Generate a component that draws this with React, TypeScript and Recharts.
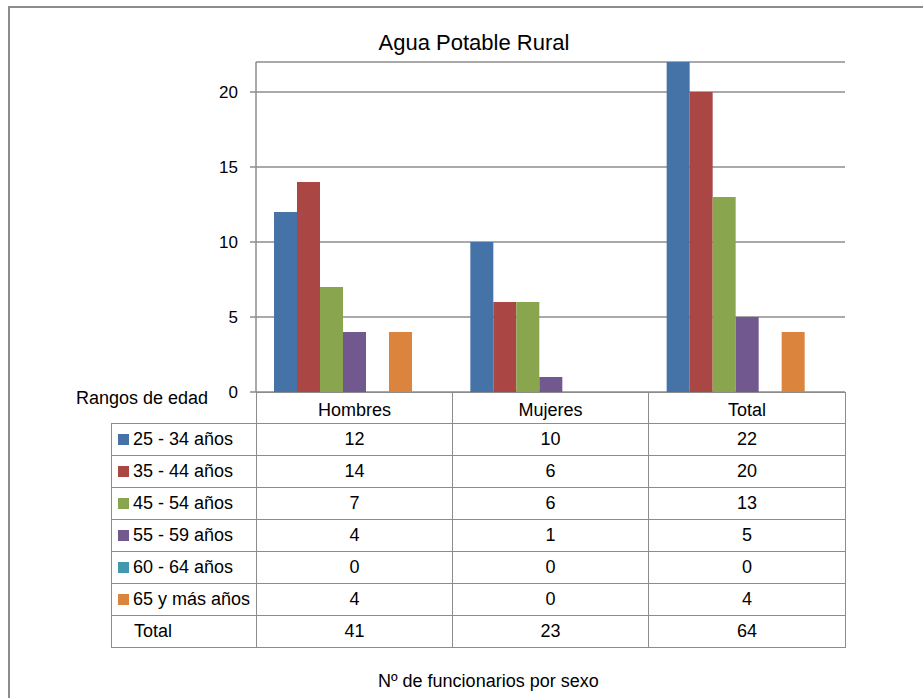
import React from 'react'
import { BarChart, Bar, XAxis, YAxis, CartesianGrid } from 'recharts'

const categories = ['Hombres', 'Mujeres', 'Total']
const seriesNames = ['25 - 34 años', '35 - 44 años', '45 - 54 años', '55 - 59 años', '60 - 64 años', '65 y más años']
const seriesColors = ['#4572A7', '#AA4643', '#89A54E', '#71588F', '#4198AF', '#DB843D']
const age25to34 = [12, 10, 22]
const age35to44 = [14, 6, 20]
const age45to54 = [7, 6, 13]
const age55to59 = [4, 1, 5]
const age60to64 = [0, 0, 0]
const age65plus = [4, 0, 4]
const totals = [41, 23, 64]
const yTicks = [0, 5, 10, 15, 20]

const seriesValues = [age25to34, age35to44, age45to54, age55to59, age60to64, age65plus]

const data = categories.map((name, i) => {
  const row: Record<string, any> = { name, total: totals[i] }
  seriesValues.forEach((vals, s) => { row[`s${s}`] = vals[i] })
  return row
})

const FONT = '"Liberation Sans", Arial, sans-serif'
const GRAY = '#8c8c8c'

const cellBorder = `1.5px solid ${GRAY}`
const rowH = 32

export default function App() {
  return (
    <div style={{ position: 'absolute', left: 0, top: 0, width: 923, height: 698, overflow: 'hidden', background: '#fff', fontFamily: FONT, color: '#000' }}>
      {/* outer chart frame */}
      <div style={{ position: 'absolute', left: 8, top: 6, width: 940, height: 720, borderLeft: `2px solid ${GRAY}`, borderTop: `2px solid ${GRAY}` }} />

      <div style={{ position: 'absolute', left: 0, top: 30, width: 948, textAlign: 'center', fontSize: 22, lineHeight: '26px' }}>
        Agua Potable Rural
      </div>

      <table style={{ position: 'absolute', left: 111, top: 392, borderCollapse: 'collapse', tableLayout: 'fixed', fontSize: 18, fontFamily: FONT }}>
        <colgroup>
          <col style={{ width: 145 }} />
          <col style={{ width: 196 }} />
          <col style={{ width: 196 }} />
          <col style={{ width: 197 }} />
        </colgroup>
        <tbody>
          <tr style={{ height: rowH - 1 }}>
            <td style={{ padding: 0, borderBottom: cellBorder }} />
            {categories.map(c => (
              <td key={c} style={{ padding: 0, border: cellBorder, textAlign: 'center', paddingTop: 4 }}>{c}</td>
            ))}
          </tr>
          {seriesNames.map((n, s) => (
            <tr key={n} style={{ height: rowH }}>
              <td style={{ padding: 0, paddingLeft: 6, border: cellBorder, whiteSpace: 'nowrap' }}>
                <span style={{ display: 'inline-block', width: 11, height: 11, background: seriesColors[s], marginRight: 4, verticalAlign: 'middle', position: 'relative', top: -1 }} />
                {n}
              </td>
              {seriesValues[s].map((v, i) => (
                <td key={i} style={{ padding: 0, border: cellBorder, textAlign: 'center' }}>{v}</td>
              ))}
            </tr>
          ))}
          <tr style={{ height: rowH }}>
            <td style={{ padding: 0, paddingLeft: 22, border: cellBorder }}>Total</td>
            {totals.map((v, i) => (
              <td key={i} style={{ padding: 0, border: cellBorder, textAlign: 'center' }}>{v}</td>
            ))}
          </tr>
        </tbody>
      </table>

      <div style={{ position: 'absolute', left: 0, top: 0 }}>
        <BarChart width={923} height={410} data={data} margin={{ top: 62, right: 78, bottom: 18, left: 196 }}
          barCategoryGap={18} barGap={0}>
          <CartesianGrid vertical={false} stroke={GRAY} strokeWidth={1.5} />
          <XAxis dataKey="name" hide />
          <YAxis width={60} domain={[0, 22]} ticks={yTicks} allowDataOverflow interval={0}
            axisLine={{ stroke: GRAY, strokeWidth: 1.5 }}
            tickLine={{ stroke: GRAY, strokeWidth: 1.5 }} tickSize={6} tickMargin={12}
            tick={{ fill: '#000', fontSize: 17, fontFamily: FONT }} />
          {seriesNames.map((n, s) => (
            <Bar key={n} dataKey={`s${s}`} name={n} fill={seriesColors[s]} isAnimationActive={false} />
          ))}
          <Bar dataKey="total" name="Total" fill="#ffffff" fillOpacity={0} isAnimationActive={false} />
        </BarChart>
      </div>

      <div style={{ position: 'absolute', left: 76, top: 386, fontSize: 18, lineHeight: '24px' }}>Rangos de edad</div>

      <div style={{ position: 'absolute', left: 378, top: 670, width: 217, textAlign: 'center', fontSize: 18, lineHeight: '22px', whiteSpace: 'nowrap' }}>
        Nº de funcionarios por sexo
      </div>
    </div>
  )
}
